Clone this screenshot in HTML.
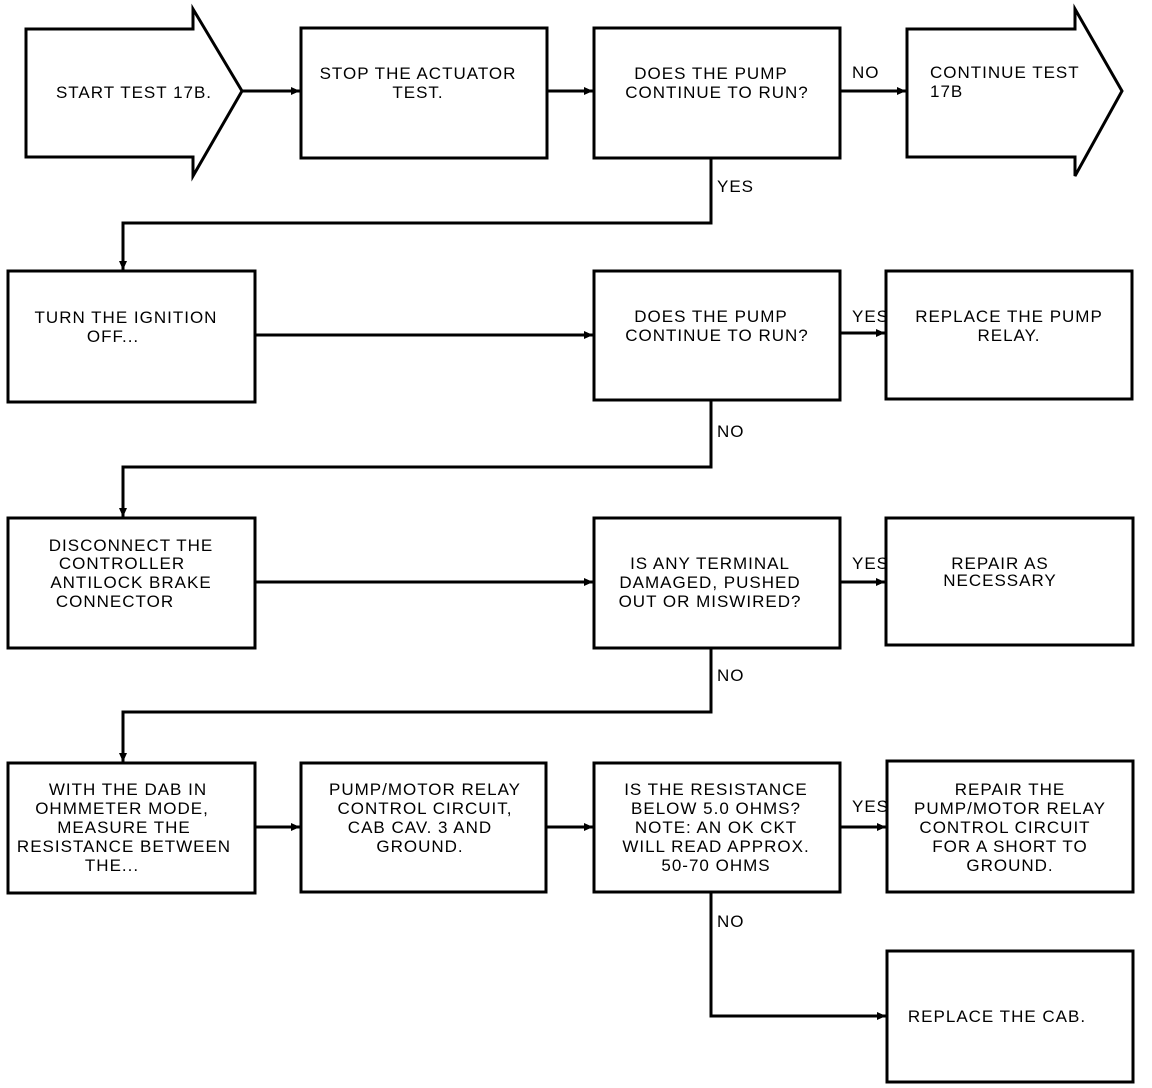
<!DOCTYPE html>
<html><head><meta charset="utf-8"><style>
html,body{margin:0;padding:0;background:#fff}
svg{display:block}
text{font-family:"Liberation Sans",sans-serif;font-size:17px;letter-spacing:1px;fill:#000}
</style></head><body>
<svg width="1152" height="1088" viewBox="0 0 1152 1088" xmlns="http://www.w3.org/2000/svg">
<defs><marker id="a" markerWidth="10" markerHeight="10" refX="9" refY="5" orient="auto" markerUnits="userSpaceOnUse"><path d="M0,1 L9,5 L0,9 z" fill="#000"/></marker></defs>
<g fill="none" stroke="#000" stroke-width="3">
<path d="M26,29 H193 V9 L242,91 L193,176 V157 H26 Z"/>
<rect x="301" y="28" width="246" height="130"/>
<rect x="594" y="28" width="246" height="130"/>
<path d="M907,29 H1075 V9 L1122,91 L1075,176 V157 H907 Z"/>
<rect x="8" y="271" width="247" height="131"/>
<rect x="594" y="271" width="246" height="129"/>
<rect x="886" y="271" width="246" height="128"/>
<rect x="8" y="518" width="247" height="130"/>
<rect x="594" y="518" width="246" height="130"/>
<rect x="886" y="518" width="247" height="127"/>
<rect x="8" y="763" width="247" height="130"/>
<rect x="301" y="763" width="245" height="129"/>
<rect x="594" y="763" width="246" height="129"/>
<rect x="887" y="761" width="246" height="131"/>
<rect x="887" y="951" width="246" height="131"/>
<g marker-end="url(#a)">
<path d="M242,91 H300"/>
<path d="M547,91 H593"/>
<path d="M840,91 H906"/>
<path d="M711,158 V223 H123 V270"/>
<path d="M255,335 H593"/>
<path d="M840,333 H885"/>
<path d="M711,400 V467 H123 V517"/>
<path d="M255,582 H593"/>
<path d="M840,582 H885"/>
<path d="M711,648 V712 H123 V762"/>
<path d="M255,827 H300"/>
<path d="M546,827 H593"/>
<path d="M840,827 H886"/>
<path d="M711,892 V1016 H886"/>
</g>
</g>
<g text-anchor="middle">
<text x="134" y="98">START TEST 17B.</text>
<text x="418" y="79">STOP THE ACTUATOR</text><text x="418" y="98">TEST.</text>
<text x="711" y="79">DOES THE PUMP</text><text x="717" y="98">CONTINUE TO RUN?</text>
<text x="126" y="323">TURN THE IGNITION</text><text x="113" y="342">OFF...</text>
<text x="711" y="322">DOES THE PUMP</text><text x="717" y="341">CONTINUE TO RUN?</text>
<text x="1009" y="322">REPLACE THE PUMP</text><text x="1009" y="341">RELAY.</text>
<text x="131" y="551">DISCONNECT THE</text><text x="122" y="569">CONTROLLER</text><text x="131" y="588">ANTILOCK BRAKE</text><text x="115" y="607">CONNECTOR</text>
<text x="710" y="569">IS ANY TERMINAL</text><text x="710" y="588">DAMAGED, PUSHED</text><text x="710" y="607">OUT OR MISWIRED?</text>
<text x="1000" y="569">REPAIR AS</text><text x="1000" y="586">NECESSARY</text>
<text x="128" y="795">WITH THE DAB IN</text><text x="122" y="814">OHMMETER MODE,</text><text x="124" y="833">MEASURE THE</text><text x="124" y="852">RESISTANCE BETWEEN</text><text x="112" y="871">THE...</text>
<text x="425" y="795">PUMP/MOTOR RELAY</text><text x="425" y="814">CONTROL CIRCUIT,</text><text x="420" y="833">CAB CAV. 3 AND</text><text x="420" y="852">GROUND.</text>
<text x="716" y="795">IS THE RESISTANCE</text><text x="716" y="814">BELOW 5.0 OHMS?</text><text x="716" y="833">NOTE: AN OK CKT</text><text x="716" y="852">WILL READ APPROX.</text><text x="716" y="871">50-70 OHMS</text>
<text x="1010" y="795">REPAIR THE</text><text x="1010" y="814">PUMP/MOTOR RELAY</text><text x="1005" y="833">CONTROL CIRCUIT</text><text x="1010" y="852">FOR A SHORT TO</text><text x="1010" y="871">GROUND.</text>
<text x="997" y="1022">REPLACE THE CAB.</text>
</g>
<text x="930" y="78">CONTINUE TEST</text>
<text x="930" y="97">17B</text>
<text x="852" y="78">NO</text>
<text x="717" y="192">YES</text>
<text x="852" y="322">YES</text>
<text x="717" y="437">NO</text>
<text x="852" y="569">YES</text>
<text x="717" y="681">NO</text>
<text x="852" y="812">YES</text>
<text x="717" y="927">NO</text>
</svg>
</body></html>
